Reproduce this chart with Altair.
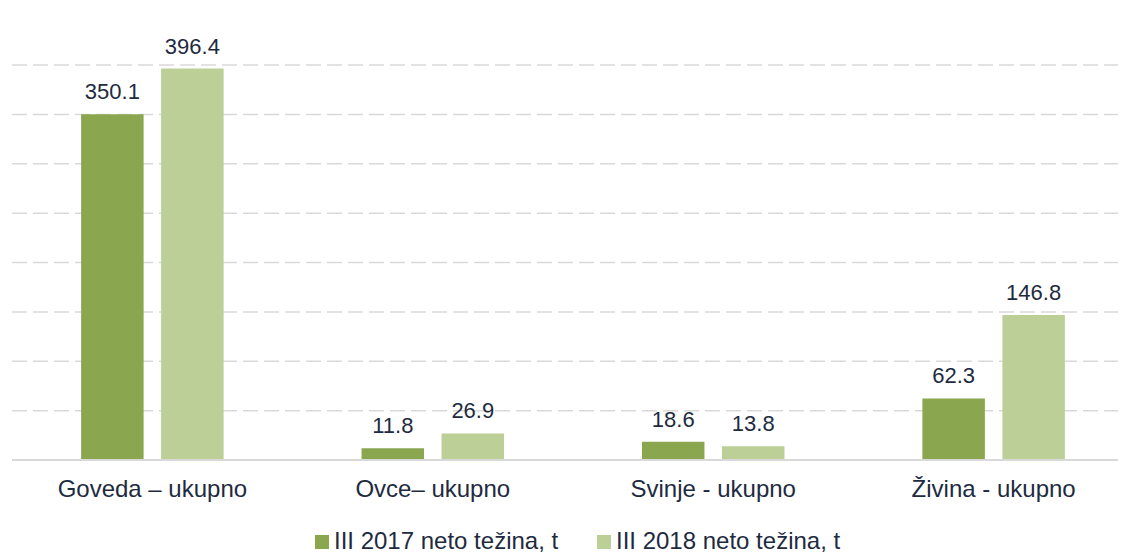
import altair as alt
import pandas as pd

categories = ["Goveda – ukupno", "Ovce– ukupno", "Svinje - ukupno", "Živina -  ukupno"]
series = ["III 2017 neto težina, t", "III 2018 neto težina, t"]
values_2017 = [350.1, 11.8, 18.6, 62.3]
values_2018 = [396.4, 26.9, 13.8, 146.8]
colors = ["#8aa64f", "#bbcf96"]
grid_values = [50, 100, 150, 200, 250, 300, 350, 400]

rows = []
for c, v in zip(categories, values_2017):
    rows.append({"cat": c, "series": series[0], "value": v, "label": f"{v:.1f}"})
for c, v in zip(categories, values_2018):
    rows.append({"cat": c, "series": series[1], "value": v, "label": f"{v:.1f}"})
df = pd.DataFrame(rows)
grid_df = pd.DataFrame({"g": grid_values})
base_df = pd.DataFrame({"g": [0]})

text_color = "#1e2b3f"
font = "Liberation Sans"

W = 1090
y_scale = alt.Scale(domain=[0, 400], nice=False, zero=True)

x_enc = alt.X("cat:N", sort=categories,
              scale=alt.Scale(paddingInner=0.113, paddingOuter=0),
              axis=alt.Axis(title=None, labelAngle=0, labelFontSize=24, labelColor=text_color,
                            labelFont=font, ticks=False, domain=False, labelLimit=0,
                            labelPadding=17, grid=False))
xoff = alt.XOffset("series:N", sort=series,
                   scale=alt.Scale(paddingInner=0.219, paddingOuter=0.664))

grid = alt.Chart(grid_df).mark_rule(color="#d9d9d9", strokeWidth=1.5, strokeDash=[15, 6]).encode(
    y=alt.Y("g:Q", scale=y_scale, axis=None),
    x=alt.value(-16), x2=alt.value(W),
)

bars = alt.Chart(df).mark_bar().encode(
    x=x_enc, xOffset=xoff,
    y=alt.Y("value:Q", scale=y_scale, axis=None),
    color=alt.Color("series:N", sort=series,
                    scale=alt.Scale(domain=series, range=colors),
                    legend=alt.Legend(title=None, orient="none", legendX=282, legendY=465,
                                      direction="horizontal", symbolType="square",
                                      symbolSize=196, symbolStrokeWidth=0,
                                      labelFontSize=24, labelColor=text_color,
                                      labelFont=font, columnPadding=33, labelLimit=0,
                                      labelOffset=0, symbolOpacity=1, padding=0))
)

baseline = alt.Chart(base_df).mark_rule(color="#d9d9d9", strokeWidth=2).encode(
    y=alt.Y("g:Q", scale=y_scale, axis=None),
    x=alt.value(-16), x2=alt.value(W),
)

labels = alt.Chart(df).mark_text(baseline="alphabetic", dy=-15, fontSize=22,
                                 font=font, color=text_color).encode(
    x=alt.X("cat:N", sort=categories), xOffset=xoff,
    y=alt.Y("value:Q", scale=y_scale, axis=None), text="label:N"
)

chart = (grid + bars + baseline + labels).properties(
    width=W, height=395,
    padding={"left": 20, "top": 57, "right": 0, "bottom": 100},
    autosize=alt.AutoSizeParams(type="none"),
    background="white",
).configure_view(stroke=None)

chart.save("out.html", embed_options={"renderer": "svg", "actions": False})
